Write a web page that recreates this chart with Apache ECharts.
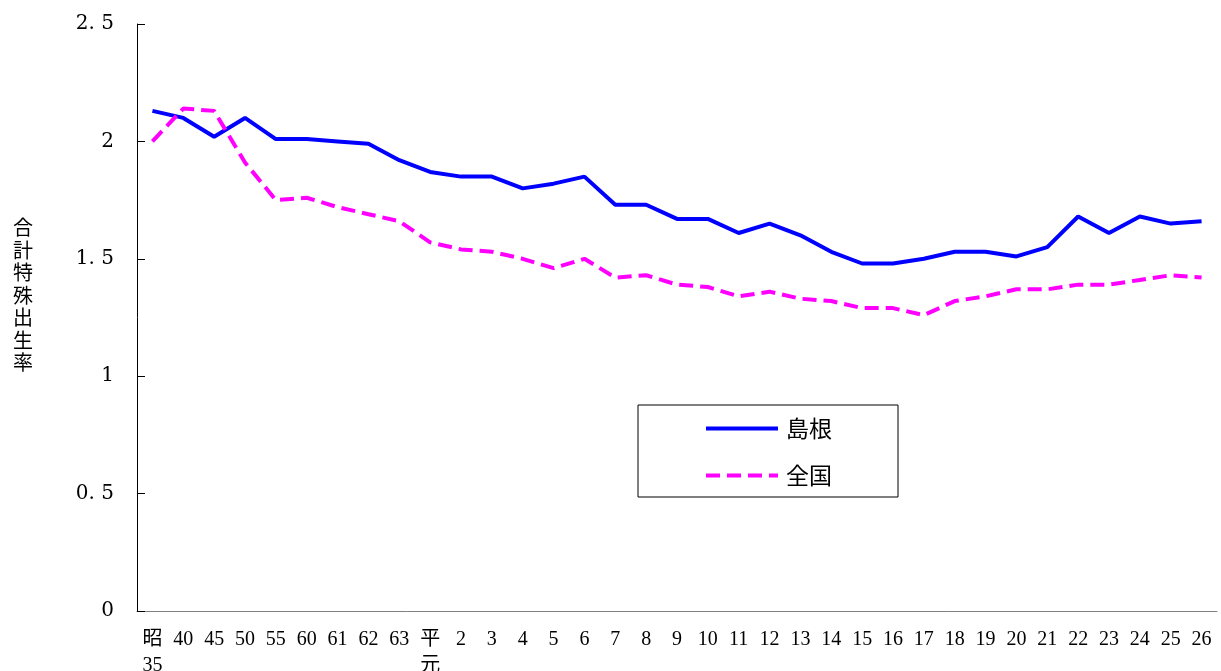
<!DOCTYPE html>
<html>
<head>
<meta charset="utf-8">
<script src="https://cdn.jsdelivr.net/npm/echarts@6/dist/echarts.min.js"></script>
<style>
html, body { margin: 0; padding: 0; background: #fff; }
#chart { width: 1221px; height: 671px; }
</style>
</head>
<body>
<div id="chart"></div>
<script>
// 年次（昭和35～平成26）
var years = ["昭\n35", "40", "45", "50", "55", "60", "61", "62", "63", "平\n元",
  "2", "3", "4", "5", "6", "7", "8", "9", "10", "11", "12", "13", "14", "15",
  "16", "17", "18", "19", "20", "21", "22", "23", "24", "25", "26"];
// 島根
var shimane = [2.13, 2.10, 2.02, 2.10, 2.01, 2.01, 2.00, 1.99, 1.92, 1.87,
  1.85, 1.85, 1.80, 1.82, 1.85, 1.73, 1.73, 1.67, 1.67, 1.61, 1.65, 1.60,
  1.53, 1.48, 1.48, 1.50, 1.53, 1.53, 1.51, 1.55, 1.68, 1.61, 1.68, 1.65, 1.66];
// 全国
var zenkoku = [2.00, 2.14, 2.13, 1.91, 1.75, 1.76, 1.72, 1.69, 1.66, 1.57,
  1.54, 1.53, 1.50, 1.46, 1.50, 1.42, 1.43, 1.39, 1.38, 1.34, 1.36, 1.33,
  1.32, 1.29, 1.29, 1.26, 1.32, 1.34, 1.37, 1.37, 1.39, 1.39, 1.41, 1.43, 1.42];
// 縦軸目盛
var yTickLabels = { "0": "0", "0.5": "0. 5", "1": "1", "1.5": "1. 5", "2": "2", "2.5": "2. 5" };

var chart = echarts.init(document.getElementById("chart"));
var option = {
  backgroundColor: "#fff",
  animation: false,
  grid: { left: 137, right: 4, top: 24, bottom: 60, outerBoundsMode: "none" },
  legend: {
    orient: "vertical",
    left: 638,
    top: 405,
    padding: [12, 66, 10, 66],
    itemWidth: 72,
    itemHeight: 16,
    itemGap: 24,
    borderColor: "#000",
    borderWidth: 1,
    backgroundColor: "#fff",
    itemStyle: { color: "rgba(0,0,0,0)", borderColor: "rgba(0,0,0,0)", borderWidth: 0 },
    lineStyle: { width: 4, type: "inherit" },
    textStyle: { fontFamily: "Noto Sans CJK JP", fontSize: 23, lineHeight: 23, color: "#000", padding: [0, 0, 0, 3] },
    data: ["島根", "全国"]
  },
  xAxis: {
    type: "category",
    data: years,
    boundaryGap: true,
    axisLine: { lineStyle: { color: "#808080", width: 1 } },
    axisTick: { inside: true, length: 6, lineStyle: { color: "#808080" } },
    axisLabel: {
      interval: 0,
      margin: 16,
      color: "#000",
      fontFamily: "Liberation Serif, Noto Sans CJK JP",
      fontSize: 20,
      lineHeight: 26
    }
  },
  yAxis: {
    type: "value",
    min: 0,
    max: 2.5,
    interval: 0.5,
    name: "合\n計\n特\n殊\n出\n生\n率\n\n",
    nameLocation: "middle",
    nameGap: 104,
    nameRotate: 0,
    nameTextStyle: {
      fontFamily: "Noto Sans CJK JP",
      fontSize: 20,
      lineHeight: 22.5,
      color: "#000"
    },
    splitLine: { show: false },
    axisLine: { show: true, lineStyle: { color: "#000", width: 1 } },
    axisTick: { show: true, inside: true, length: 8, lineStyle: { color: "#000" } },
    axisLabel: {
      margin: 23,
      color: "#000",
      fontFamily: "DejaVu Serif",
      fontSize: 20,
      formatter: function (v) { return yTickLabels[String(v)] || String(v); }
    }
  },
  series: [
    {
      name: "島根",
      type: "line",
      data: shimane,
      symbol: "none",
      lineStyle: { color: "#0000ff", width: 4 },
      itemStyle: { color: "#0000ff" }
    },
    {
      name: "全国",
      type: "line",
      data: zenkoku,
      symbol: "none",
      lineStyle: { color: "#ff00ff", width: 4, type: [14, 7] },
      itemStyle: { color: "#ff00ff" }
    }
  ]
};
chart.setOption(option);
</script>
</body>
</html>
